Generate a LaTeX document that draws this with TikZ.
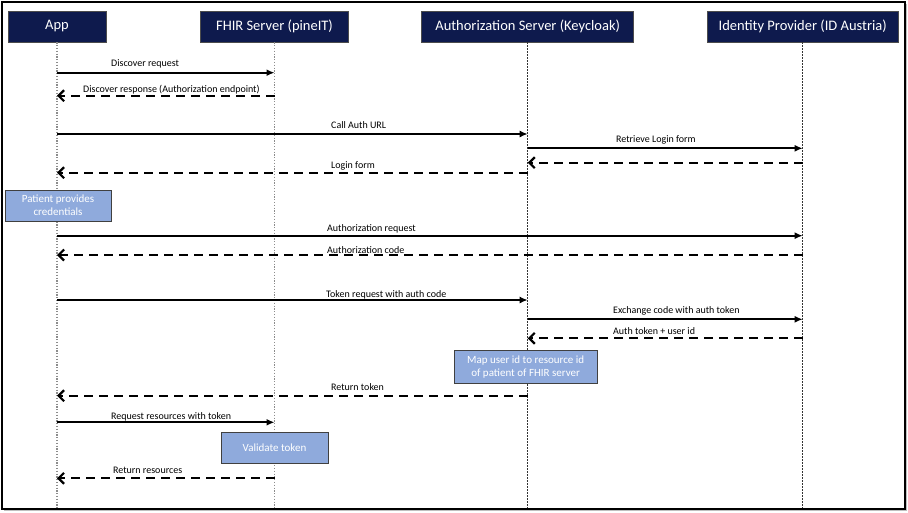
\documentclass[tikz,border=0pt]{standalone}
\usepackage{fontspec}
\setmainfont{Carlito}
\usetikzlibrary{arrows.meta}
\definecolor{navy}{RGB}{14,26,77}
\definecolor{boxblue}{RGB}{143,170,220}
\begin{document}
\begin{tikzpicture}[x=1pt,y=-1pt,
  header/.style={draw=black!70,fill=navy,text=white,font=\fontsize{14.5}{16}\selectfont,minimum height=31pt,inner sep=0pt,line width=0.6pt},
  notebox/.style={draw=black!75,fill=boxblue,text=white,font=\fontsize{11}{13}\selectfont,align=center,inner sep=0pt,line width=0.7pt},
  lifeA/.style={draw=black!45,line width=1.1pt,dash pattern=on 1.2pt off 1.6pt},
  lifeB/.style={draw=black!80,line width=0.6pt,dash pattern=on 1.5pt off 1.5pt},
  req/.style={draw=black,line width=1.8pt,-{Latex[length=8pt,width=7pt]}},
  resp/.style={draw=black,line width=2.2pt,dash pattern=on 9pt off 6pt,-{Straight Barb[length=5.5pt,width=11pt,line width=2.2pt]}},
  lbl/.style={font=\fontsize{10}{12}\selectfont,inner sep=0pt,anchor=base west}]
\useasboundingbox (0,0) rectangle (908,512);
\fill[black!25] (4,4) rectangle (907,511);
\draw[line width=2pt,fill=white] (2,2) rectangle (905,509);
% headers
\node[header,minimum width=98pt] (app) at (57,26.5) {App};
\node[header,minimum width=148pt] (fhir) at (274.5,26.5) {FHIR Server (pineIT)};
\node[header,minimum width=212pt] (auth) at (527.7,26.5) {Authorization Server (Keycloak)};
\node[header,minimum width=191pt] (idp) at (802.7,26.5) {Identity Provider (ID Austria)};
% lifeline ends
\coordinate (appE) at (57,508);
\coordinate (fhirE) at (274.5,508);
\coordinate (authE) at (527.7,508);
\coordinate (idpE) at (802.7,508);
\draw[lifeA] (app.south) -- (appE);
\draw[lifeA] (fhir.south) -- (fhirE);
\draw[lifeB] (auth.south) -- (authE);
\draw[lifeB] (idp.south) -- (idpE);
% messages
\draw[req] (app |- 0,72.7) -- (fhir |- 0,72.7);
\node[lbl] (l1) at (111,66.5) {Discover request};
\draw[resp] (fhir |- 0,95.7) -- (app |- 0,95.7);
\node[lbl] (l2) at (83,92.5) {Discover response (Authorization endpoint)};
\draw[req] (app |- 0,134) -- (auth |- 0,134);
\node[lbl] (l3) at (331,128.5) {Call Auth URL};
\draw[req] (auth |- 0,148.3) -- (idp |- 0,148.3);
\node[lbl] (l4) at (616,142.5) {Retrieve Login form};
\draw[resp] (idp |- 0,162.7) -- (auth |- 0,162.7);
\draw[resp] (auth |- 0,172.7) -- (app |- 0,172.7);
\node[lbl] (l6) at (331,168.5) {Login form};
\node[notebox,minimum width=106pt,minimum height=31pt] (pat) at (58,205.5) {Patient provides\\credentials};
\draw[req] (app |- 0,235.7) -- (idp |- 0,235.7);
\node[lbl] (l8) at (327,231.5) {Authorization request};
\draw[resp] (idp |- 0,255) -- (app |- 0,255);
\node[lbl] (l9) at (327,253.5) {Authorization code};
\draw[req] (app |- 0,300) -- (auth |- 0,300);
\node[lbl] (l10) at (326,297) {Token request with auth code};
\draw[req] (auth |- 0,319.3) -- (idp |- 0,319.3);
\node[lbl] (l11) at (613,313.5) {Exchange code with auth token};
\draw[resp] (idp |- 0,338.3) -- (auth |- 0,338.3);
\node[lbl] (l12) at (613,334) {Auth token + user id};
\node[notebox,minimum width=143pt,minimum height=33pt] (map) at (525.7,366.8) {Map user id to resource id\\of patient of FHIR server};
\draw[resp] (auth |- 0,395.7) -- (app |- 0,395.7);
\node[lbl] (l14) at (331,390.5) {Return token};
\draw[req] (app |- 0,422.3) -- (fhir |- 0,422.3);
\node[lbl] (l15) at (111,419.5) {Request resources with token};
\node[notebox,minimum width=107pt,minimum height=30.6pt] (val) at (274.5,448) {Validate token};
\draw[resp] (fhir |- 0,478.3) -- (app |- 0,478.3);
\node[lbl] (l17) at (113,473.8) {Return resources};
\end{tikzpicture}
\end{document}
